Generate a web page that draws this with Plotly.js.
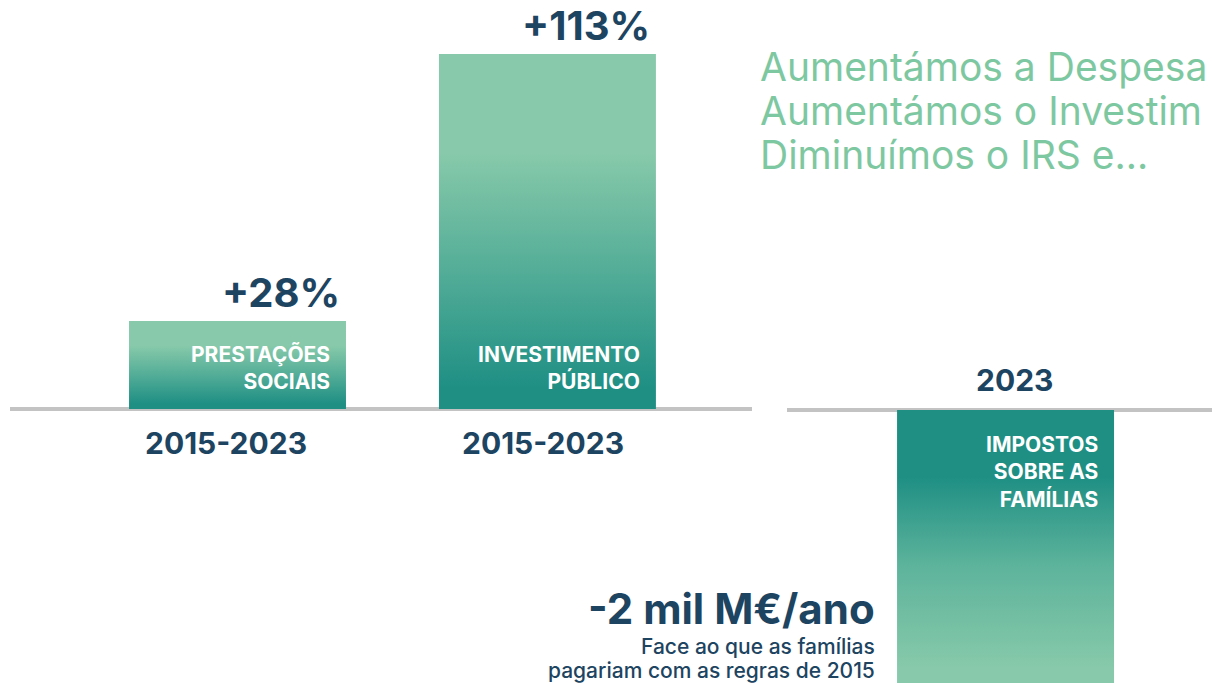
<!DOCTYPE html>
<html>
<head>
<meta charset="utf-8">
<script src="https://cdn.plot.ly/plotly-3.0.1.min.js"></script>
<style>html,body{margin:0;padding:0;background:#fff;}#chart{width:1212px;height:683px;}</style>
</head>
<body>
<div id="chart"></div>
<script>
// ---- data ----
const leftCategories = ["PRESTAÇÕES<br>SOCIAIS", "INVESTIMENTO<br>PÚBLICO"];
const leftValues = [28, 113];                 // % change 2015-2023
const leftValueLabels = ["+28%", "+113%"];
const leftPeriods = ["2015-2023", "2015-2023"];
const rightCategories = ["IMPOSTOS<br>SOBRE AS<br>FAMÍLIAS"];
const rightValues = [-2];                     // mil M€/ano
const rightValueLabels = ["-2 mil M€/ano"];
const rightNote = ["Face ao que as famílias", "pagariam com as regras de 2015"];
const rightPeriods = ["2023"];
const headline = ["Aumentámos a Despesa", "Aumentámos o Investim", "Diminuímos o IRS e..."];

// ---- style ----
const NAVY = "#1d4461";
const LIGHT = "#87c9aa";
const TEAL = "#1f8f84";
const GREEN_TXT = "#7ec8a1";
const FONT = "Inter, 'Open Sans', sans-serif";
const W = 0.7;
const H = 683, WD = 1212;
const periodShift = [-12, -4];

function barTrace(i, v, xa, ya) {
  const x0 = i - W / 2, x1 = i + W / 2;
  const pos = v >= 0;
  return {
    type: "scatter", mode: "lines", xaxis: xa, yaxis: ya,
    x: [x0, x1, x1, x0, x0], y: [0, 0, v, v, 0],
    fill: "toself", line: {width: 0}, hoverinfo: "skip",
    fillgradient: {
      type: "vertical",
      start: Math.min(0, v), stop: Math.max(0, v),
      colorscale: pos ? [[0, TEAL], [0.06, TEAL], [0.4, "#55ae98"], [0.72, LIGHT], [1, LIGHT]]
                      : [[0, LIGHT], [0.08, LIGHT], [0.45, "#5cb39b"], [0.76, TEAL], [1, TEAL]]
    },
    showlegend: false
  };
}

const traces = [];
leftValues.forEach((v, i) => traces.push(barTrace(i, v, "x", "y")));
rightValues.forEach((v, i) => traces.push(barTrace(i, v, "x2", "y2")));

const ann = [];
leftValues.forEach((v, i) => {
  ann.push({x: i + W / 2, y: v, xref: "x", yref: "y", text: leftValueLabels[i],
    xanchor: "right", yanchor: "bottom", showarrow: false, xshift: -4, yshift: 2,
    font: {family: FONT, size: 40, color: NAVY, weight: 700}});
  ann.push({x: i + W / 2, y: 0, xref: "x", yref: "y", text: leftCategories[i],
    xanchor: "right", yanchor: "middle", align: "right", showarrow: false, xshift: -14, yshift: 41,
    font: {family: FONT, size: 21, color: "#ffffff", weight: 700}});
  ann.push({x: i, y: 0, xref: "x", yref: "y", text: leftPeriods[i],
    xanchor: "center", yanchor: "top", showarrow: false, yshift: -14, xshift: periodShift[i],
    font: {family: FONT, size: 30, color: NAVY, weight: 700}});
});
rightValues.forEach((v, i) => {
  ann.push({x: i + W / 2, y: 0, xref: "x2", yref: "y2", text: rightCategories[i],
    xanchor: "right", yanchor: "middle", align: "right", showarrow: false, xshift: -14, yshift: -62,
    font: {family: FONT, size: 21, color: "#ffffff", weight: 700}});
  ann.push({x: i, y: 0, xref: "x2", yref: "y2", text: rightPeriods[i],
    xanchor: "center", yanchor: "bottom", showarrow: false, yshift: 10, xshift: 9,
    font: {family: FONT, size: 30, color: NAVY, weight: 700}});
  ann.push({x: 877 / WD, y: 1 - 608 / H, xref: "paper", yref: "paper", text: rightValueLabels[i],
    xanchor: "right", yanchor: "middle", showarrow: false,
    font: {family: FONT, size: 42, color: NAVY, weight: 700}});
  rightNote.forEach((t, k) => {
    ann.push({x: 877 / WD, y: 1 - (646 + 24 * k) / H, xref: "paper", yref: "paper", text: t,
      xanchor: "right", yanchor: "middle", showarrow: false,
      font: {family: FONT, size: 21, color: NAVY, weight: 500}});
  });
});
headline.forEach((t, k) => {
  ann.push({x: 758 / WD, y: 1 - (66 + 44.5 * k) / H, xref: "paper", yref: "paper", text: t,
    xanchor: "left", yanchor: "middle", showarrow: false,
    font: {family: FONT, size: 39, color: GREEN_TXT, weight: 400}});
});

const common = {showgrid: false, showticklabels: false, ticks: "", fixedrange: true};
const layout = {
  width: WD, height: H,
  margin: {l: 0, r: 0, t: 0, b: 0},
  paper_bgcolor: "#ffffff", plot_bgcolor: "rgba(0,0,0,0)",
  showlegend: false,
  xaxis: Object.assign({}, common, {domain: [10 / WD, 752 / WD], range: [-0.734, 1.66], zeroline: false}),
  yaxis: Object.assign({}, common, {domain: [0, 1], range: [-87.2, 130.2], zeroline: true,
    zerolinecolor: "#c3c3c3", zerolinewidth: 4, layer: "above traces"}),
  xaxis2: Object.assign({}, common, {domain: [787 / WD, 1], range: [-0.705, 0.666], zeroline: false, anchor: "y2"}),
  yaxis2: Object.assign({}, common, {domain: [0, 1], range: [-1.95, 2.93], zeroline: true, anchor: "x2",
    zerolinecolor: "#c3c3c3", zerolinewidth: 4, layer: "above traces"}),
  annotations: ann
};

Plotly.newPlot("chart", traces, layout, {displayModeBar: false, staticPlot: true});
</script>
</body>
</html>
